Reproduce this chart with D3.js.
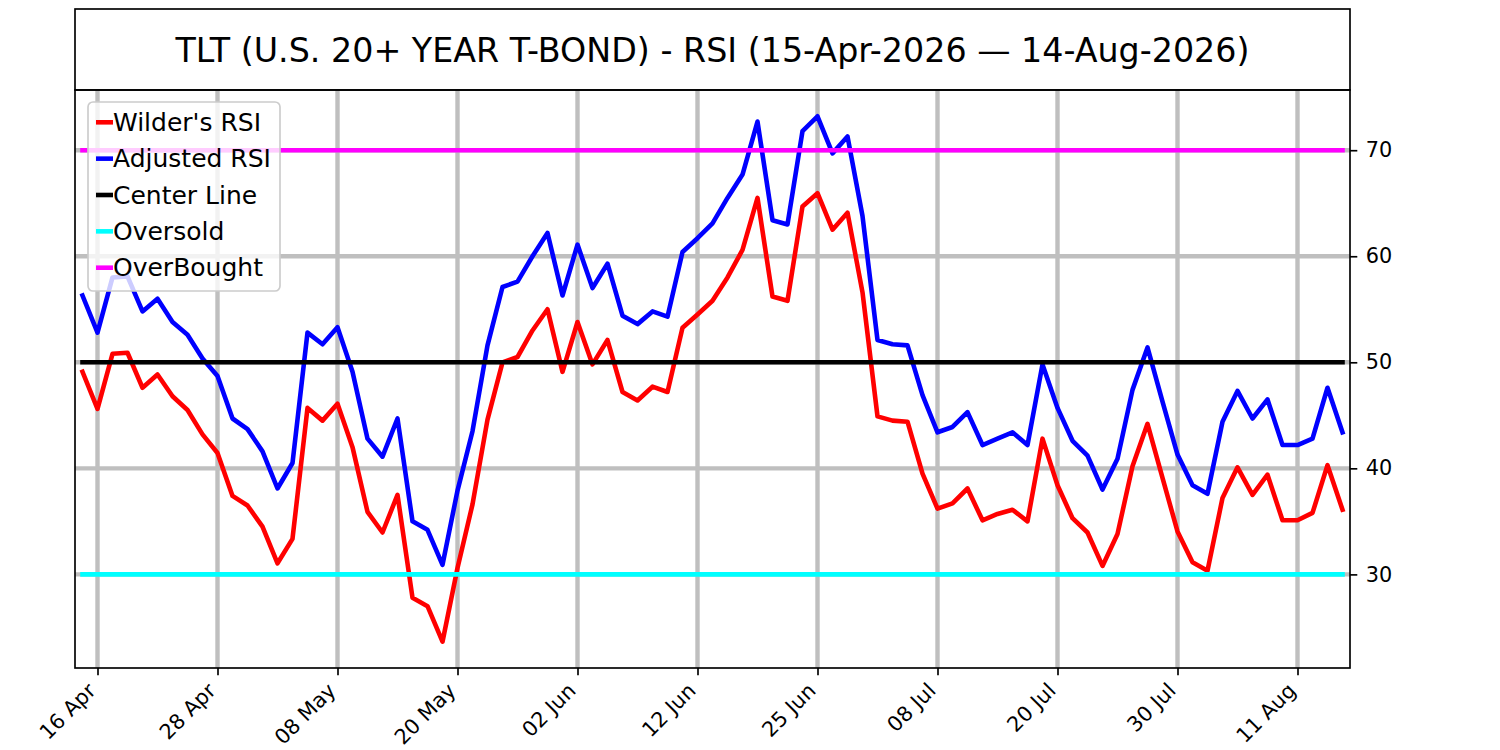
<!DOCTYPE html>
<html>
<head>
<meta charset="utf-8">
<script src="https://cdn.jsdelivr.net/npm/d3@7"></script>
<style>
  body { margin: 0; background: #fff; }
  text { font-family: "DejaVu Sans", sans-serif; }
</style>
</head>
<body>
<svg id="rsi_svg" width="1500" height="750"></svg>
<script>
let titleText = "TLT (U.S. 20+ YEAR T-BOND) - RSI (15-Apr-2026 \u2014 14-Aug-2026)";

// trading days, 15-Apr-2026 .. 14-Aug-2026
let dates = [
  "2026-04-15","2026-04-16","2026-04-17","2026-04-20","2026-04-21","2026-04-22","2026-04-23","2026-04-24",
  "2026-04-27","2026-04-28","2026-04-29","2026-04-30","2026-05-01","2026-05-04","2026-05-05","2026-05-06",
  "2026-05-07","2026-05-08","2026-05-11","2026-05-12","2026-05-13","2026-05-14","2026-05-15","2026-05-18",
  "2026-05-19","2026-05-20","2026-05-21","2026-05-22","2026-05-26","2026-05-27","2026-05-28","2026-05-29",
  "2026-06-01","2026-06-02","2026-06-03","2026-06-04","2026-06-05","2026-06-08","2026-06-09","2026-06-10",
  "2026-06-11","2026-06-12","2026-06-15","2026-06-16","2026-06-17","2026-06-18","2026-06-22","2026-06-23",
  "2026-06-24","2026-06-25","2026-06-26","2026-06-29","2026-06-30","2026-07-01","2026-07-02","2026-07-06",
  "2026-07-07","2026-07-08","2026-07-09","2026-07-10","2026-07-13","2026-07-14","2026-07-15","2026-07-16",
  "2026-07-17","2026-07-20","2026-07-21","2026-07-22","2026-07-23","2026-07-24","2026-07-27","2026-07-28",
  "2026-07-29","2026-07-30","2026-07-31","2026-08-03","2026-08-04","2026-08-05","2026-08-06","2026-08-07",
  "2026-08-10","2026-08-11","2026-08-12","2026-08-13","2026-08-14"
];

let wildersRSI = [
  49.1, 45.6, 50.8, 50.9, 47.6, 48.85, 46.8, 45.5, 43.2, 41.45,
  37.4, 36.5, 34.5, 31.05, 33.35, 45.7, 44.5, 46.1, 42.0, 35.9,
  33.95, 37.5, 27.8, 27.0, 23.65, 30.6, 36.6, 44.6, 50.0, 50.5,
  53.0, 55.0, 49.1, 53.8, 49.8, 52.1, 47.2, 46.4, 47.7, 47.2,
  53.25, 54.5, 55.8, 58.0, 60.6, 65.5, 56.2, 55.8, 64.7, 65.95,
  62.5, 64.1, 56.6, 44.9, 44.5, 44.4, 39.5, 36.2, 36.7, 38.1,
  35.1, 35.7, 36.1, 35.0, 42.8, 38.4, 35.3, 33.95, 30.8, 33.8,
  40.2, 44.2, 39.1, 34.05, 31.15, 30.35, 37.2, 40.1, 37.5, 39.4,
  35.1, 35.1, 35.8, 40.3, 36.1
];

let adjustedRSI = [
  56.3, 52.8, 58.0, 58.1, 54.8, 56.0, 53.8, 52.6, 50.35, 48.7,
  44.7, 43.7, 41.6, 38.1, 40.5, 52.8, 51.7, 53.3, 49.1, 42.8,
  41.1, 44.7, 35.0, 34.2, 30.9, 37.9, 43.5, 51.6, 57.1, 57.6,
  60.0, 62.2, 56.3, 61.1, 57.0, 59.3, 54.4, 53.6, 54.8, 54.3,
  60.4, 61.7, 63.1, 65.5, 67.7, 72.7, 63.4, 63.0, 71.8, 73.2,
  69.7, 71.3, 63.8, 52.1, 51.7, 51.6, 46.9, 43.4, 43.9, 45.3,
  42.2, 42.8, 43.4, 42.2, 49.8, 45.7, 42.6, 41.2, 38.0, 40.9,
  47.4, 51.4, 46.3, 41.3, 38.4, 37.6, 44.4, 47.3, 44.7, 46.5,
  42.2, 42.2, 42.8, 47.6, 43.4
];

let refLevels = [50, 30, 70];   // center, oversold, overbought
let yTicks = [30, 40, 50, 60, 70];
let legendLabels = ["Wilder's RSI", "Adjusted RSI", "Center Line", "Oversold", "OverBought"];
let legendColors = ["#ff0000", "#0000ff", "#000000", "#00ffff", "#ff00ff"];

let minx = 75;
let maxx = 1350;
let miny = 90;
let maxy = 668;
let lw = 4.6;

let svg = d3.select("#rsi_svg");

// x: one slot per trading day
let xScale = d3.scalePoint()
  .domain(dates)
  .range([minx, maxx])
  .padding(0.5);

let allVals = wildersRSI.concat(adjustedRSI);
let lo = d3.min(allVals);
let hi = d3.max(allVals);
let pad = (hi - lo) * 0.05;
let yScale = d3.scaleLinear()
  .domain([lo - pad, hi + pad])
  .range([maxy, miny]);

let xTicks = dates.filter((d, i) => i % 8 == 1);
let parse = d3.timeParse("%Y-%m-%d");
let fmt = d3.timeFormat("%d %b");

// grid
svg.append("g").selectAll("line")
  .data(xTicks).join("line")
  .attr("x1", d => xScale(d)).attr("x2", d => xScale(d))
  .attr("y1", miny).attr("y2", maxy)
  .attr("stroke", "#bfbfbf").attr("stroke-width", 4.4);
svg.append("g").selectAll("line")
  .data(yTicks).join("line")
  .attr("x1", minx).attr("x2", maxx)
  .attr("y1", d => yScale(d)).attr("y2", d => yScale(d))
  .attr("stroke", "#bfbfbf").attr("stroke-width", 4.4);

// rsi lines
let line = d3.line()
  .x((d, i) => xScale(dates[i]))
  .y(d => yScale(d));

[[wildersRSI, legendColors[0]], [adjustedRSI, legendColors[1]]].forEach(s => {
  svg.append("path")
    .attr("fill", "none")
    .attr("stroke", s[1])
    .attr("stroke-width", lw)
    .attr("stroke-linejoin", "round")
    .attr("stroke-linecap", "square")
    .attr("d", line(s[0]));
});

// reference lines
refLevels.forEach((v, k) => {
  svg.append("path")
    .attr("fill", "none")
    .attr("stroke", legendColors[k + 2])
    .attr("stroke-width", lw)
    .attr("stroke-linecap", "square")
    .attr("d", line(dates.map(() => v)));
});

// axes
let x_axis = d3.axisBottom(xScale)
  .tickValues(xTicks)
  .tickSize(7.3)
  .tickFormat(d => fmt(parse(d)));
let gx = svg.append("g")
  .attr("transform", `translate(0, ${maxy})`)
  .call(x_axis);
gx.select(".domain").remove();
gx.selectAll(".tick line").attr("stroke", "#000").attr("stroke-width", 1.67);
gx.selectAll(".tick text")
  .attr("font-size", 20.8)
  .attr("fill", "#000")
  .attr("text-anchor", "end")
  .attr("y", 0).attr("dy", 0)
  .attr("transform", "translate(-1, 24) rotate(-45)");

let y_axis = d3.axisRight(yScale)
  .tickValues(yTicks)
  .tickSize(7.3)
  .tickPadding(8.5);
let gy = svg.append("g")
  .attr("transform", `translate(${maxx}, 0)`)
  .call(y_axis);
gy.select(".domain").remove();
gy.selectAll(".tick line").attr("stroke", "#000").attr("stroke-width", 1.67);
gy.selectAll(".tick text").attr("font-size", 20.8).attr("fill", "#000");

// frame
svg.append("rect")
  .attr("x", minx).attr("y", miny)
  .attr("width", maxx - minx).attr("height", maxy - miny)
  .attr("fill", "none").attr("stroke", "#000").attr("stroke-width", 1.67);

// title box
svg.append("rect")
  .attr("x", minx).attr("y", 9)
  .attr("width", maxx - minx).attr("height", miny - 9)
  .attr("fill", "none").attr("stroke", "#000").attr("stroke-width", 1.67);
svg.append("text")
  .attr("x", (minx + maxx) / 2).attr("y", 62)
  .attr("text-anchor", "middle")
  .attr("font-size", 33.3)
  .text(titleText);

// legend
let lg = svg.append("g");
lg.append("rect")
  .attr("x", 88).attr("y", 102)
  .attr("width", 192).attr("height", 189)
  .attr("rx", 5)
  .attr("fill", "#fff").attr("fill-opacity", 0.8)
  .attr("stroke", "#cccccc").attr("stroke-width", 1.67);
legendLabels.forEach((lab, k) => {
  let cy = 122.3 + k * 36.35;
  lg.append("line")
    .attr("x1", 96).attr("x2", 113)
    .attr("y1", cy).attr("y2", cy)
    .attr("stroke", legendColors[k]).attr("stroke-width", lw);
  lg.append("text")
    .attr("x", 113).attr("y", cy + 8.7)
    .attr("font-size", 25)
    .text(lab);
});
</script>
</body>
</html>
